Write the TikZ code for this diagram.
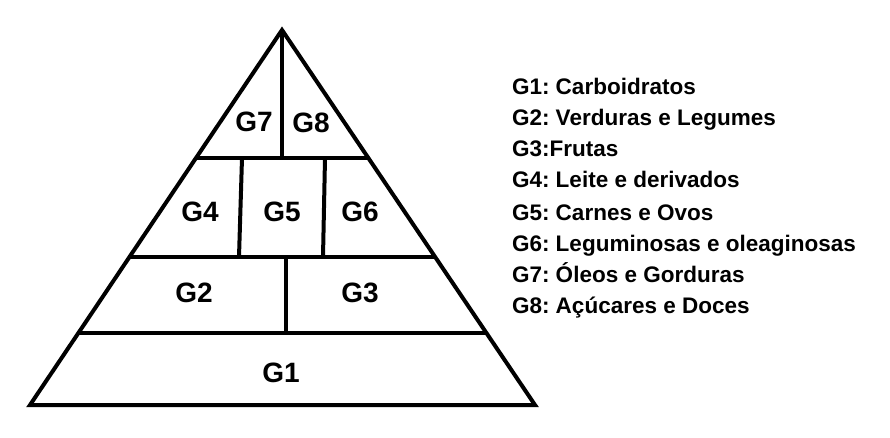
\documentclass[tikz,border=0pt]{standalone}
\usepackage{fontspec}
\setmainfont{Liberation Sans}
\usetikzlibrary{calc}
\frenchspacing
\begin{document}
\begin{tikzpicture}[x=1pt, y=-1pt, line width=4pt, line join=miter,group node/.style={font=\fontsize{28}{30}\selectfont\bfseries,inner sep=0pt},legend node/.style={anchor=base west,font=\fontsize{22.5}{26}\selectfont\bfseries,inner sep=0pt}]%
\useasboundingbox (0,0) rectangle (890,438);
\coordinate (apex) at (282,30);
\coordinate (bl) at (30,405);
\coordinate (br) at (535,405);
\draw (apex) -- (bl) -- (br) -- cycle;
\begin{scope}
\draw ($(apex)!0.3413!(bl)$) -- ($(apex)!0.3413!(br)$);
\draw ($(apex)!0.6053!(bl)$) -- ($(apex)!0.6053!(br)$);
\draw ($(apex)!0.808!(bl)$) -- ($(apex)!0.808!(br)$);
\draw (apex) -- (282,158);
\draw (242,158) -- (239,257);
\draw (325,158) -- (323,257);
\draw (286,257) -- (286,333);
\end{scope}
\begin{scope}[every node/.style={group node}]
\node (g7) at (254,122) {G7};
\node (g8) at (311,123) {G8};
\node (g4) at (200,212) {G4};
\node (g5) at (282,212) {G5};
\node (g6) at (360,212) {G6};
\node (g2) at (194,293) {G2};
\node (g3) at (360,293) {G3};
\node (g1) at (281,373) {G1};
\end{scope}
\begin{scope}[every node/.style={legend node}]
\node (l1) at (510,95) {G1: Carboidratos};
\node (l2) at (510,126) {G2: Verduras e Legumes};
\node (l3) at (510,157) {G3:Frutas};
\node (l4) at (510,188) {G4: Leite e derivados};
\node (l5) at (510,220) {G5: Carnes e Ovos};
\node (l6) at (510,251) {G6: Leguminosas e oleaginosas};
\node (l7) at (510,282) {G7: Óleos e Gorduras};
\node (l8) at (510,313) {G8: Açúcares e Doces};
\end{scope}
\end{tikzpicture}
\end{document}
